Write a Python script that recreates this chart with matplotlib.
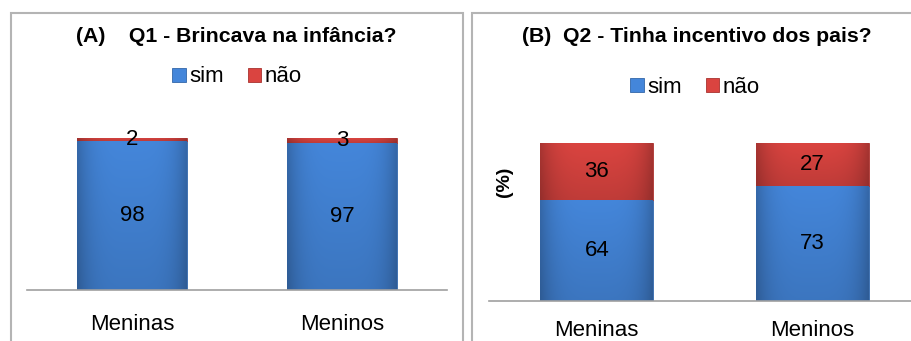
import numpy as np
import matplotlib.pyplot as plt
from matplotlib.colors import to_rgb
from matplotlib.patches import Rectangle

plt.rcParams["font.family"] = ["Liberation Sans", "DejaVu Sans"]

categories = ["Meninas", "Meninos"]
q1_sim = [98, 97]
q1_nao = [2, 3]
q2_sim = [64, 73]
q2_nao = [36, 27]

BLUE = "#4486DA"
RED = "#DA4440"
W, H = 911, 341


def px_axes(fig, x0, x1, y_top, y_base):
    # pixel box (from top-left) -> figure fraction axes
    return fig.add_axes([x0 / W, (H - y_base) / H, (x1 - x0) / W, (y_base - y_top) / H])


def shade(ax, bars, color):
    # office-like bevel: darker at sides and towards the bottom
    base = np.array(to_rgb(color))
    u = np.linspace(0, 1, 60)
    v = np.linspace(0, 1, 40)[:, None]
    f = (1 - 0.22 * np.abs(2 * u - 1) ** 4)[None, :] * (0.88 + 0.12 * v)
    img = np.clip(base[None, None, :] * f[:, :, None], 0, 1)
    for b in bars:
        x, y = b.get_x(), b.get_y()
        im = ax.imshow(img, extent=(x, x + b.get_width(), y, y + b.get_height()),
                       origin="lower", aspect="auto", zorder=b.get_zorder(),
                       interpolation="bilinear")
        im.set_clip_path(b)


def draw_panel(ax, sim, nao, width, pad):
    x = range(len(categories))
    b1 = ax.bar(x, sim, width, color=BLUE, edgecolor="#3366a8", lw=0.6, label="sim")
    b2 = ax.bar(x, nao, width, bottom=sim, color=RED, edgecolor="#a8332f", lw=0.6,
                label="não")
    shade(ax, b1, BLUE)
    shade(ax, b2, RED)
    for i in x:
        ax.text(i, sim[i] / 2, str(sim[i]), ha="center", va="center", fontsize=16,
                zorder=5)
        ax.text(i, sim[i] + nao[i] / 2, str(nao[i]), ha="center", va="center",
                fontsize=16, zorder=5)
    ax.set_xlim(-0.5, 1.5)
    ax.set_ylim(0, 100)
    for s in ["top", "right", "left"]:
        ax.spines[s].set_visible(False)
    ax.spines["bottom"].set_color("#a0a0a0")
    ax.spines["bottom"].set_linewidth(1.2)
    ax.set_yticks([])
    ax.set_xticks(list(x))
    ax.set_xticklabels(categories, fontsize=16)
    ax.tick_params(axis="x", length=0, pad=pad)


fig = plt.figure(figsize=(W / 100, H / 100), dpi=100)

# panel frames
fig.patches.append(Rectangle((11 / W, -0.1), (463 - 11) / W, 1.1 - 13 / H,
                             transform=fig.transFigure, fill=False,
                             edgecolor="#b4b4b4", lw=1.5))
fig.patches.append(Rectangle((472 / W, -0.1), 0.6, 1.1 - 13 / H,
                             transform=fig.transFigure, fill=False,
                             edgecolor="#b4b4b4", lw=1.5))

ax1 = px_axes(fig, 27, 447, 138, 290)
draw_panel(ax1, q1_sim, q1_nao, 0.52, 17)
fig.text(236 / W, 1 - 37 / H, "(A)    Q1 - Brincava na infância?", ha="center",
         va="center", fontsize=15.3, fontweight="bold")
h, l = ax1.get_legend_handles_labels()
fig.legend(h, l, loc="center", bbox_to_anchor=(237 / W, 1 - 77 / H), ncol=2,
           frameon=False, fontsize=16, handlelength=0.6, handleheight=0.6,
           handletextpad=0.15, columnspacing=1.1)

ax2 = px_axes(fig, 489, 920, 143, 301)
draw_panel(ax2, q2_sim, q2_nao, 0.524, 14)
fig.text(504 / W, 1 - 182 / H, "(%)", rotation=90, ha="center", va="center",
         fontsize=14, fontweight="bold")
fig.text(697 / W, 1 - 37 / H, "(B)  Q2 - Tinha incentivo dos pais?", ha="center",
         va="center", fontsize=15.3, fontweight="bold")
h, l = ax2.get_legend_handles_labels()
fig.legend(h, l, loc="center", bbox_to_anchor=(695 / W, 1 - 87 / H), ncol=2,
           frameon=False, fontsize=16, handlelength=0.6, handleheight=0.6,
           handletextpad=0.15, columnspacing=1.1)

fig.savefig("out.png", dpi=100)
